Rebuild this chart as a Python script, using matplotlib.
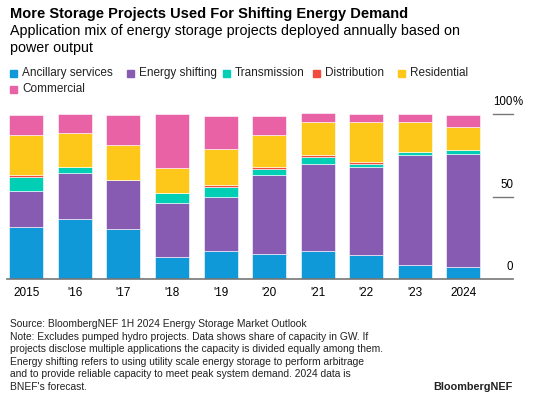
import matplotlib
matplotlib.use("Agg")
import matplotlib.pyplot as plt
import numpy as np

plt.rcParams['font.family'] = ['Liberation Sans', 'DejaVu Sans']

# ---- data (share of capacity, %) ----
years = ["2015", "'16", "'17", "'18", "'19", "'20", "'21", "'22", "'23", "2024"]
series_names = ["Ancillary services", "Energy shifting", "Transmission",
                "Distribution", "Residential", "Commercial"]
ancillary = [31.4, 36.2, 30.2, 13.4, 17.2, 15.4, 17.2, 14.4, 8.3, 7.3]
energy_shifting = [21.7, 28.0, 30.0, 32.6, 32.8, 47.6, 52.8, 53.6, 66.8, 68.8]
transmission = [8.9, 3.8, 0.0, 6.1, 6.1, 4.0, 4.0, 2.0, 2.0, 2.0]
distribution = [1.2, 0.0, 0.0, 0.0, 1.0, 1.2, 1.0, 1.0, 0.0, 0.3]
residential = [24.1, 20.3, 21.1, 15.2, 22.0, 19.0, 20.0, 24.1, 18.0, 14.0]
commercial = [12.0, 11.7, 18.0, 32.8, 20.1, 12.0, 5.9, 4.9, 4.9, 7.1]
colors = ["#0f99d8", "#885bb3", "#00cfb5", "#f04b3c", "#fec81a", "#e962a6"]

W, H = 535, 396
fig = plt.figure(figsize=(W / 100, H / 100), dpi=100)
fig.patch.set_facecolor("white")

def fx(px):
    return px / W

def fy(py):
    return 1 - py / H

# header
fig.text(fx(10), fy(14), "More Storage Projects Used For Shifting Energy Demand",
         fontsize=10.5, fontweight="bold", va="center", ha="left")
fig.text(fx(10), fy(31), "Application mix of energy storage projects deployed annually based on",
         fontsize=10.3, va="center", ha="left")
fig.text(fx(10), fy(48), "power output", fontsize=10.3, va="center", ha="left")

# legend (manual, two rows)
leg_rows = [[0, 1, 2, 3, 4], [5]]
leg_x = [[10, 127, 223, 313, 398], [10]]
leg_y = [73, 89]
for r, idxs in enumerate(leg_rows):
    for i, px in zip(idxs, leg_x[r]):
        fig.patches.append(plt.Rectangle((fx(px), fy(leg_y[r]) - 3.5 / H), 7 / W, 7 / H,
                                         transform=fig.transFigure, color=colors[i]))
        fig.text(fx(px + 12), fy(leg_y[r]), series_names[i], fontsize=8.5,
                 va="center", ha="left", color="#222222")

# axes
ax = fig.add_axes([fx(7), fy(279), fx(506), 178 / H])
x = np.arange(len(years))
data = [ancillary, energy_shifting, transmission, distribution, residential, commercial]
bottom = np.zeros(len(years))
for vals, c in zip(data, colors):
    v = np.array(vals)
    ax.bar(x, v, width=0.7, bottom=bottom, color=c, edgecolor="white", linewidth=0.4)
    bottom += v

ax.set_xlim(-0.395, 10.02)
ax.set_ylim(0, 108)
for s in ["top", "right", "left"]:
    ax.spines[s].set_visible(False)
ax.spines["bottom"].set_color("#777777")
ax.spines["bottom"].set_linewidth(1.2)
ax.set_yticks([])
ax.set_xticks(x)
ax.set_xticklabels(years, fontsize=8.5)
ax.tick_params(axis="x", length=0, pad=6)

# right-side value marks
for yv in [50, 100]:
    ax.plot([9.61, 10.02], [yv, yv], color="#777777", lw=1.0, clip_on=False)
for yv, lab in [(0, "0"), (50, "50"), (100, "100")]:
    ax.text(10.02, yv + 3.5, lab, fontsize=8.3, ha="right", va="bottom")
ax.text(10.02, 103.5, "%", fontsize=8.3, ha="left", va="bottom")

# footer
notes = [
    "Source: BloombergNEF 1H 2024 Energy Storage Market Outlook",
    "Note: Excludes pumped hydro projects. Data shows share of capacity in GW. If",
    "projects disclose multiple applications the capacity is divided equally among them.",
    "Energy shifting refers to using utility scale energy storage to perform arbitrage",
    "and to provide reliable capacity to meet peak system demand. 2024 data is",
    "BNEF's forecast.",
]
for i, line in enumerate(notes):
    fig.text(fx(10), fy(324 + i * 12.6), line, fontsize=7.4, va="center", ha="left",
             color="#222222")
fig.text(fx(513), fy(387), "BloombergNEF", fontsize=7.8, fontweight="bold",
         va="center", ha="right", color="#222222")

fig.savefig("out.png", dpi=100, facecolor="white")
